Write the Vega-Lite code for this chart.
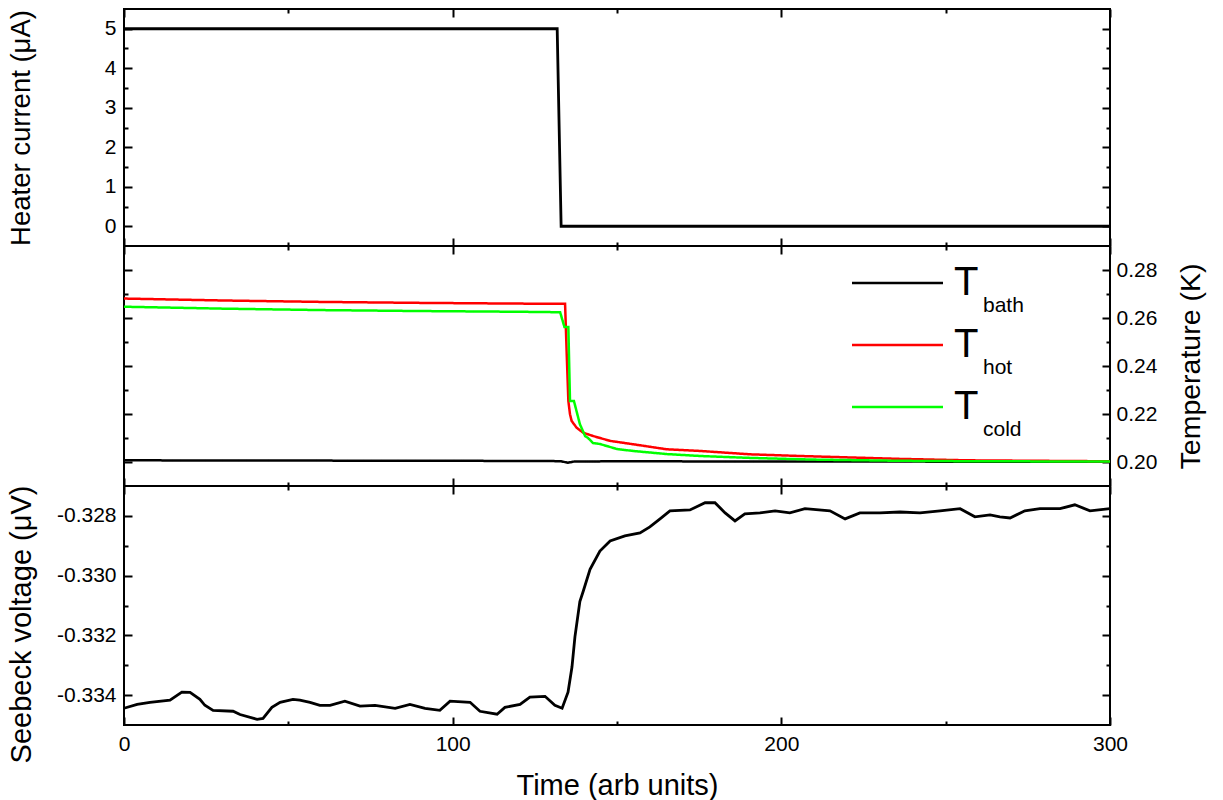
{
  "$schema": "https://vega.github.io/schema/vega-lite/v6.json",
  "background": "white",
  "padding": {"left": 6, "top": 7, "right": 5, "bottom": 3},
  "spacing": 0,
  "bounds": "flush",
  "config": {
    "font": "Liberation Sans",
    "view": {"stroke": "black", "strokeWidth": 2},
    "axis": {"domain": false, "grid": false, "labelFontSize": 21, "labelColor": "black", "titleFontSize": 29, "titleFontWeight": "normal", "titleColor": "black", "tickColor": "black", "tickWidth": 2, "labelFlush": false, "labelOverlap": false, "labelPadding": 16}
  },
  "resolve": {"scale": {"color": "independent", "strokeDash": "independent"}, "legend": {"color": "independent", "strokeDash": "independent"}},
  "vconcat": [
    {
      "width": 986, "height": 237,
      "data": {"values": [
        {"t": 0, "I": 5}, {"t": 131.8, "I": 5}, {"t": 133.0, "I": 0}, {"t": 300, "I": 0}
      ]},
      "layer": [
        {"mark": {"type": "line", "color": "black", "strokeWidth": 2.8},
         "encoding": {
           "x": {"field": "t", "type": "quantitative", "scale": {"domain": [0, 300], "nice": false}, "axis": {"orient": "bottom", "values": [0, 100, 200, 300], "tickSize": -8, "labels": false, "title": null}},
           "y": {"field": "I", "type": "quantitative", "scale": {"domain": [-0.5, 5.5], "nice": false, "zero": false}, "axis": {"orient": "left", "values": [0, 1, 2, 3, 4, 5], "tickSize": -8, "title": "Heater current (μA)", "titleFontSize": 27.5, "titlePadding": 69}}
         }},
        {"mark": {"type": "line", "opacity": 0},
         "encoding": {
           "x": {"field": "t", "type": "quantitative", "axis": {"orient": "bottom", "values": [50, 150, 250], "tickSize": -4, "labels": false, "title": null}},
           "y": {"field": "I", "type": "quantitative", "axis": {"orient": "left", "values": [0.5, 1.5, 2.5, 3.5, 4.5], "tickSize": -4, "labels": false, "title": null}}
         }},
        {"mark": {"type": "line", "opacity": 0},
         "encoding": {
           "x": {"field": "t", "type": "quantitative", "axis": {"orient": "top", "values": [0, 100, 200, 300], "tickSize": -8, "labels": false, "title": null}},
           "y": {"field": "I", "type": "quantitative", "axis": {"orient": "right", "values": [0, 1, 2, 3, 4, 5], "tickSize": -8, "labels": false, "title": null}}
         }},
        {"mark": {"type": "line", "opacity": 0},
         "encoding": {
           "x": {"field": "t", "type": "quantitative", "axis": {"orient": "top", "values": [50, 150, 250], "tickSize": -4, "labels": false, "title": null}},
           "y": {"field": "I", "type": "quantitative", "axis": {"orient": "right", "values": [0.5, 1.5, 2.5, 3.5, 4.5], "tickSize": -4, "labels": false, "title": null}}
         }}
      ],
      "resolve": {"axis": {"x": "independent", "y": "independent"}}
    },
    {
      "width": 986, "height": 240,
      "data": {"values": [
        {"series": "Tbath", "sub": "bath", "t": 0, "T": 0.2007}, {"series": "Tbath", "sub": "bath", "t": 50, "T": 0.2006}, {"series": "Tbath", "sub": "bath", "t": 100, "T": 0.2005}, {"series": "Tbath", "sub": "bath", "t": 130, "T": 0.2004}, {"series": "Tbath", "sub": "bath", "t": 133, "T": 0.2003}, {"series": "Tbath", "sub": "bath", "t": 135, "T": 0.1997}, {"series": "Tbath", "sub": "bath", "t": 137, "T": 0.2002}, {"series": "Tbath", "sub": "bath", "t": 150, "T": 0.2003}, {"series": "Tbath", "sub": "bath", "t": 200, "T": 0.2002}, {"series": "Tbath", "sub": "bath", "t": 300, "T": 0.2001},
        {"series": "Thot", "sub": "hot", "t": 0, "T": 0.2681}, {"series": "Thot", "sub": "hot", "t": 30, "T": 0.2673}, {"series": "Thot", "sub": "hot", "t": 60, "T": 0.2667}, {"series": "Thot", "sub": "hot", "t": 90, "T": 0.2663}, {"series": "Thot", "sub": "hot", "t": 120, "T": 0.2660}, {"series": "Thot", "sub": "hot", "t": 134.2, "T": 0.2659}, {"series": "Thot", "sub": "hot", "t": 134.7, "T": 0.2450}, {"series": "Thot", "sub": "hot", "t": 135.2, "T": 0.2254}, {"series": "Thot", "sub": "hot", "t": 135.7, "T": 0.2199}, {"series": "Thot", "sub": "hot", "t": 136.2, "T": 0.2171}, {"series": "Thot", "sub": "hot", "t": 137.7, "T": 0.2143}, {"series": "Thot", "sub": "hot", "t": 139.7, "T": 0.2122}, {"series": "Thot", "sub": "hot", "t": 142.8, "T": 0.2108}, {"series": "Thot", "sub": "hot", "t": 147.9, "T": 0.2088}, {"series": "Thot", "sub": "hot", "t": 154.9, "T": 0.2074}, {"series": "Thot", "sub": "hot", "t": 165.1, "T": 0.2053}, {"series": "Thot", "sub": "hot", "t": 175.3, "T": 0.2046}, {"series": "Thot", "sub": "hot", "t": 190.5, "T": 0.2032}, {"series": "Thot", "sub": "hot", "t": 205.7, "T": 0.2025}, {"series": "Thot", "sub": "hot", "t": 220.9, "T": 0.2019}, {"series": "Thot", "sub": "hot", "t": 236.1, "T": 0.2013}, {"series": "Thot", "sub": "hot", "t": 256.5, "T": 0.2007}, {"series": "Thot", "sub": "hot", "t": 300, "T": 0.2003},
        {"series": "Tcold", "sub": "cold", "t": 0, "T": 0.2647}, {"series": "Tcold", "sub": "cold", "t": 30, "T": 0.2639}, {"series": "Tcold", "sub": "cold", "t": 60, "T": 0.2633}, {"series": "Tcold", "sub": "cold", "t": 90, "T": 0.2629}, {"series": "Tcold", "sub": "cold", "t": 120, "T": 0.2626}, {"series": "Tcold", "sub": "cold", "t": 132.7, "T": 0.2624}, {"series": "Tcold", "sub": "cold", "t": 134.0, "T": 0.2563}, {"series": "Tcold", "sub": "cold", "t": 135.2, "T": 0.2563}, {"series": "Tcold", "sub": "cold", "t": 135.7, "T": 0.2254}, {"series": "Tcold", "sub": "cold", "t": 136.9, "T": 0.2254}, {"series": "Tcold", "sub": "cold", "t": 138.7, "T": 0.2158}, {"series": "Tcold", "sub": "cold", "t": 140.3, "T": 0.2108}, {"series": "Tcold", "sub": "cold", "t": 141.2, "T": 0.2100}, {"series": "Tcold", "sub": "cold", "t": 142.7, "T": 0.2079}, {"series": "Tcold", "sub": "cold", "t": 144.8, "T": 0.2075}, {"series": "Tcold", "sub": "cold", "t": 150.0, "T": 0.2054}, {"series": "Tcold", "sub": "cold", "t": 154.9, "T": 0.2046}, {"series": "Tcold", "sub": "cold", "t": 165.2, "T": 0.2033}, {"series": "Tcold", "sub": "cold", "t": 175.3, "T": 0.2025}, {"series": "Tcold", "sub": "cold", "t": 190.5, "T": 0.2017}, {"series": "Tcold", "sub": "cold", "t": 210, "T": 0.2010}, {"series": "Tcold", "sub": "cold", "t": 236, "T": 0.2005}, {"series": "Tcold", "sub": "cold", "t": 260, "T": 0.2003}, {"series": "Tcold", "sub": "cold", "t": 300, "T": 0.2002}
      ]},
      "layer": [
        {"mark": {"type": "line", "strokeWidth": 2.5},
         "encoding": {
           "x": {"field": "t", "type": "quantitative", "scale": {"domain": [0, 300], "nice": false}, "axis": {"orient": "bottom", "values": [0, 100, 200, 300], "tickSize": -8, "labels": false, "title": null}},
           "y": {"field": "T", "type": "quantitative", "scale": {"domain": [0.19, 0.29], "nice": false, "zero": false}, "axis": {"orient": "left", "values": [0.2, 0.22, 0.24, 0.26, 0.28], "tickSize": -8, "labels": false, "title": null}},
           "color": {"field": "series", "type": "nominal", "scale": {"domain": ["Tbath", "Thot", "Tcold"], "range": ["black", "#ff0000", "#00ff00"]},
             "legend": {"orient": "none", "legendX": 749.5, "legendY": 13, "direction": "vertical", "title": null, "symbolType": "M-2,0H2", "symbolSize": 2070, "symbolStrokeWidth": 2.5, "symbolFillColor": "transparent", "labelExpr": "'T'", "labelFontSize": 40, "labelColor": "black", "labelOffset": 32.5, "rowPadding": 18, "padding": 0}},
           "strokeDash": {"field": "sub", "type": "nominal", "scale": {"domain": ["bath", "hot", "cold"], "range": [[1, 0], [1, 0], [1, 0]]},
             "legend": {"orient": "none", "legendX": 838, "legendY": 49, "direction": "vertical", "title": null, "symbolOpacity": 0, "symbolSize": 1, "symbolStrokeWidth": 0, "labelFontSize": 21, "labelColor": "black", "labelOffset": 0, "rowPadding": 40, "padding": 0}}
         }},
        {"mark": {"type": "line", "opacity": 0},
         "encoding": {
           "x": {"field": "t", "type": "quantitative", "axis": {"orient": "bottom", "values": [50, 150, 250], "tickSize": -4, "labels": false, "title": null}},
           "y": {"field": "T", "type": "quantitative", "axis": {"orient": "left", "values": [0.21, 0.23, 0.25, 0.27], "tickSize": -4, "labels": false, "title": null}}
         }},
        {"mark": {"type": "line", "opacity": 0},
         "encoding": {
           "x": {"field": "t", "type": "quantitative", "axis": {"orient": "top", "values": [0, 100, 200, 300], "tickSize": -8, "labels": false, "title": null}},
           "y": {"field": "T", "type": "quantitative", "axis": {"orient": "right", "values": [0.2, 0.22, 0.24, 0.26, 0.28], "tickSize": -8, "format": ".2f", "labelPadding": 14, "title": "Temperature (K)", "titleFontSize": 28.5, "titleAngle": 270, "titleBaseline": "top", "titlePadding": 20}}
         }},
        {"mark": {"type": "line", "opacity": 0},
         "encoding": {
           "x": {"field": "t", "type": "quantitative", "axis": {"orient": "top", "values": [50, 150, 250], "tickSize": -4, "labels": false, "title": null}},
           "y": {"field": "T", "type": "quantitative", "axis": {"orient": "right", "values": [0.21, 0.23, 0.25, 0.27], "tickSize": -4, "labels": false, "title": null}}
         }}
      ],
      "resolve": {"axis": {"x": "independent", "y": "independent"}}
    },
    {
      "width": 986, "height": 239,
      "data": {"values": [
        {"t": 0, "V": -0.33444}, {"t": 4.0, "V": -0.33431}, {"t": 7.9, "V": -0.33424}, {"t": 14.0, "V": -0.33417}, {"t": 17.6, "V": -0.33390}, {"t": 20.1, "V": -0.33391}, {"t": 23.1, "V": -0.33414}, {"t": 24.6, "V": -0.33434}, {"t": 27.1, "V": -0.33451}, {"t": 33.2, "V": -0.33454}, {"t": 35.3, "V": -0.33465}, {"t": 40.5, "V": -0.33481}, {"t": 42.3, "V": -0.33478}, {"t": 45.0, "V": -0.33441}, {"t": 47.5, "V": -0.33424}, {"t": 51.4, "V": -0.33414}, {"t": 53.5, "V": -0.33417}, {"t": 56.6, "V": -0.33424}, {"t": 59.6, "V": -0.33434}, {"t": 62.7, "V": -0.33434}, {"t": 67.2, "V": -0.33420}, {"t": 71.8, "V": -0.33437}, {"t": 76.4, "V": -0.33434}, {"t": 82.5, "V": -0.33444}, {"t": 87.0, "V": -0.33431}, {"t": 91.6, "V": -0.33444}, {"t": 96.1, "V": -0.33451}, {"t": 99.2, "V": -0.33420}, {"t": 105.3, "V": -0.33424}, {"t": 108.3, "V": -0.33454}, {"t": 113.5, "V": -0.33464}, {"t": 115.9, "V": -0.33441}, {"t": 120.5, "V": -0.33431}, {"t": 123.5, "V": -0.33407}, {"t": 128.1, "V": -0.33404}, {"t": 131.1, "V": -0.33434}, {"t": 133.3, "V": -0.33444}, {"t": 135.1, "V": -0.33390}, {"t": 136.3, "V": -0.33306}, {"t": 137.2, "V": -0.33205}, {"t": 138.7, "V": -0.33087}, {"t": 139.7, "V": -0.33053}, {"t": 141.8, "V": -0.32979}, {"t": 144.8, "V": -0.32918}, {"t": 147.9, "V": -0.32884}, {"t": 152.4, "V": -0.32867}, {"t": 157.0, "V": -0.32857}, {"t": 160.0, "V": -0.32837}, {"t": 163.1, "V": -0.32810}, {"t": 166.1, "V": -0.32783}, {"t": 172.2, "V": -0.32780}, {"t": 176.8, "V": -0.32756}, {"t": 179.8, "V": -0.32756}, {"t": 182.9, "V": -0.32790}, {"t": 185.9, "V": -0.32817}, {"t": 188.9, "V": -0.32793}, {"t": 193.5, "V": -0.32790}, {"t": 198.1, "V": -0.32783}, {"t": 202.6, "V": -0.32790}, {"t": 207.2, "V": -0.32776}, {"t": 214.8, "V": -0.32783}, {"t": 219.4, "V": -0.32810}, {"t": 223.9, "V": -0.32790}, {"t": 230.0, "V": -0.32790}, {"t": 236.1, "V": -0.32787}, {"t": 242.2, "V": -0.32790}, {"t": 248.3, "V": -0.32783}, {"t": 254.4, "V": -0.32776}, {"t": 258.9, "V": -0.32803}, {"t": 263.5, "V": -0.32797}, {"t": 266.5, "V": -0.32803}, {"t": 269.6, "V": -0.32807}, {"t": 274.1, "V": -0.32783}, {"t": 278.7, "V": -0.32776}, {"t": 284.8, "V": -0.32776}, {"t": 289.3, "V": -0.32763}, {"t": 293.9, "V": -0.32783}, {"t": 300, "V": -0.32776}
      ]},
      "layer": [
        {"mark": {"type": "line", "color": "black", "strokeWidth": 2.8},
         "encoding": {
           "x": {"field": "t", "type": "quantitative", "scale": {"domain": [0, 300], "nice": false}, "axis": {"orient": "bottom", "values": [0, 100, 200, 300], "tickSize": -8, "title": "Time (arb units)", "titlePadding": 17}},
           "y": {"field": "V", "type": "quantitative", "scale": {"domain": [-0.335, -0.327], "nice": false, "zero": false}, "axis": {"orient": "left", "values": [-0.334, -0.332, -0.330, -0.328], "tickSize": -8, "labelExpr": "'-' + format(-datum.value, '.3f')", "title": "Seebeck voltage (μV)", "titlePadding": 20, "titleY": 138}}
         }},
        {"mark": {"type": "line", "opacity": 0},
         "encoding": {
           "x": {"field": "t", "type": "quantitative", "axis": {"orient": "bottom", "values": [50, 150, 250], "tickSize": -4, "labels": false, "title": null}},
           "y": {"field": "V", "type": "quantitative", "axis": {"orient": "left", "values": [-0.333, -0.331, -0.329], "tickSize": -4, "labels": false, "title": null}}
         }},
        {"mark": {"type": "line", "opacity": 0},
         "encoding": {
           "x": {"field": "t", "type": "quantitative", "axis": {"orient": "top", "values": [0, 100, 200, 300], "tickSize": -8, "labels": false, "title": null}},
           "y": {"field": "V", "type": "quantitative", "axis": {"orient": "right", "values": [-0.334, -0.332, -0.330, -0.328], "tickSize": -8, "labels": false, "title": null}}
         }},
        {"mark": {"type": "line", "opacity": 0},
         "encoding": {
           "x": {"field": "t", "type": "quantitative", "axis": {"orient": "top", "values": [50, 150, 250], "tickSize": -4, "labels": false, "title": null}},
           "y": {"field": "V", "type": "quantitative", "axis": {"orient": "right", "values": [-0.333, -0.331, -0.329], "tickSize": -4, "labels": false, "title": null}}
         }}
      ],
      "resolve": {"axis": {"x": "independent", "y": "independent"}}
    }
  ]
}
